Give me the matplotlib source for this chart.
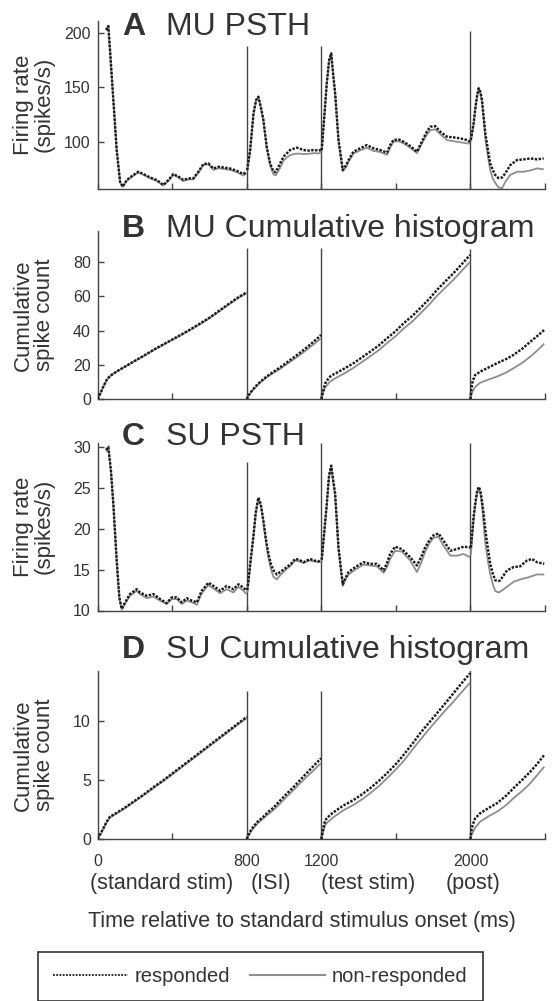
import numpy as np
import matplotlib
matplotlib.use("Agg")
import matplotlib.pyplot as plt
import matplotlib.transforms as mtransforms
from matplotlib.lines import Line2D

plt.rcParams['font.family'] = ['Liberation Sans', 'DejaVu Sans']

# ---------------- data ----------------
# Panel A: MU PSTH (spikes/s); four segments: standard, ISI, test, post
mu_psth_time = [
    [45, 57, 66, 84, 102, 120, 134, 156, 191, 218, 245, 281, 317, 352, 379, 406, 433, 460, 487, 513,
     540, 567, 594, 621, 648, 674, 710, 746, 782, 798],
    [802, 818, 836, 850, 862, 875, 889, 907, 925, 943, 955, 979, 997, 1015, 1032, 1050, 1068, 1086,
     1104, 1122, 1140, 1160, 1185, 1198],
    [1202, 1217, 1229, 1242, 1253, 1263, 1274, 1292, 1315, 1333, 1346, 1372, 1408, 1444, 1480, 1516,
     1552, 1569, 1587, 1614, 1641, 1677, 1713, 1730, 1748, 1766, 1784, 1811, 1838, 1874, 1909, 1945,
     1981, 1998],
    [2002, 2017, 2025, 2035, 2044, 2053, 2062, 2071, 2080, 2094, 2106, 2120, 2133, 2150, 2169, 2187,
     2214, 2250, 2285, 2321, 2357, 2393],
]
mu_psth_resp = [
    [203, 206.7, 184.6, 138.5, 92.3, 63.1, 58.5, 64.7, 69.3, 72.3, 70.2, 67.1, 64.7, 60.1, 64.7, 70.2,
     67.9, 64.7, 66.2, 66.2, 72.3, 79.4, 80, 75.3, 76.9, 76.3, 75.3, 73.2, 70.2, 72.3],
    [73.8, 92.3, 126.2, 138.5, 141.5, 132.3, 120, 95.4, 80, 72.5, 72, 80, 86.2, 89.3, 92.3, 93.5, 94.5,
     93.5, 92.3, 92, 91.7, 92.5, 91.7, 92.5],
    [92.3, 126, 153.9, 175.4, 181.5, 163, 144.6, 101.6, 73.9, 78.5, 83.1, 90.8, 93.9, 96.9, 93.9, 92.3,
     89.9, 96.9, 101.6, 102.1, 100, 96, 90.8, 96.9, 103.1, 109.2, 113.8, 114.4, 109.2, 104.6, 104,
     103.1, 101.6, 100],
    [101.6, 117, 129.2, 142, 149.3, 146, 138.5, 123, 107.7, 92.3, 80, 73.9, 69.3, 66.5, 67, 70.8, 78.5,
     83.1, 83.7, 84.6, 83.7, 84.6],
]
mu_psth_nonresp = [
    [203, 206.5, 184, 138, 92, 63, 58.3, 64, 68.6, 71.6, 69.5, 66.3, 63.8, 59.5, 63.8, 69.4, 67, 63.8,
     65.2, 65.3, 71.2, 78.6, 79.2, 74, 75.6, 75, 74, 72, 68.8, 70.8],
    [73, 91.5, 125.5, 138, 141, 132, 119.5, 94, 78.5, 70, 69, 76, 82.5, 85.5, 87.6, 88.5, 89, 89, 88.5,
     88.8, 89, 89.5, 89.2, 90],
    [91.5, 125.5, 153, 175, 181, 162.5, 144, 101, 73, 76.5, 81.5, 89, 92, 94.5, 91.5, 90.5, 88, 94.5,
     100, 100.5, 98.5, 94.5, 89.5, 95, 101, 106.5, 110.5, 111.5, 107, 101.5, 100.5, 99.5, 98.5, 98.5],
    [100.5, 116, 128.5, 141, 148.5, 145, 136, 120, 103, 86, 73.9, 66, 62, 58, 57, 63, 69.5, 72.3, 72.3,
     73.5, 75.4, 74.6],
]

# Panel B: MU cumulative spike count
mu_cum_time = [
    [0, 15, 30, 48, 66, 100, 150, 200, 250, 300, 350, 400, 450, 500, 550, 600, 650, 700, 750, 800],
    [800, 812, 825, 840, 860, 880, 900, 925, 950, 975, 1000, 1025, 1050, 1075, 1100, 1125, 1150, 1175, 1198],
    [1200, 1210, 1221, 1235, 1247, 1265, 1283, 1320, 1372, 1420, 1462, 1510, 1552, 1600, 1641, 1690,
     1730, 1780, 1820, 1865, 1909, 1950, 1998],
    [2000, 2005, 2012, 2025, 2052, 2100, 2142, 2190, 2231, 2280, 2321, 2360, 2396],
]
mu_cum_resp = [
    [0, 3.5, 7.2, 11.1, 13.5, 16, 19.2, 22.4, 25.5, 28.8, 31.8, 34.8, 37.8, 40.9, 44.2, 47.6, 51.5,
     55.4, 59.2, 62.5],
    [0, 2.5, 4.5, 6.5, 8.8, 10.8, 12.6, 14.6, 16.4, 18.2, 20.2, 22.2, 24.2, 26.2, 28.3, 30.5, 32.8,
     35.1, 37.5],
    [0, 5, 9.2, 11.5, 13.1, 14.4, 15.4, 17.6, 20.9, 24.5, 27.7, 31.5, 35.5, 39.8, 44.3, 48.8, 53.1,
     58.7, 63.8, 68.8, 73.6, 78.5, 84.3],
    [0, 6, 10.5, 14, 16, 18.6, 20.9, 23.3, 25.8, 29.6, 33.5, 37, 40.4],
]
mu_cum_nonresp = [
    [0, 3.4, 7.1, 11, 13.4, 15.9, 19.1, 22.3, 25.3, 28.6, 31.6, 34.6, 37.5, 40.6, 43.9, 47.3, 51.1,
     55, 58.8, 62],
    [0, 2.3, 4.2, 6.1, 8.4, 10.3, 12.1, 14, 15.7, 17.4, 19.3, 21.2, 23.1, 25, 27, 29.1, 31.3, 33.4, 35.5],
    [0, 3.8, 6.8, 8.7, 10.2, 11.5, 12.6, 14.8, 18.2, 21.8, 25.0, 28.7, 32.7, 36.9, 41.2, 45.5, 49.9,
     55.4, 60.3, 65.1, 69.8, 74.6, 80.3],
    [0, 2.5, 4.5, 7, 9.5, 11.5, 13.1, 15.4, 18, 21.3, 24.8, 28.5, 32.4],
]

# Panel C: SU PSTH (spikes/s)
su_psth_time = [
    [45, 57, 71, 84, 102, 116, 129, 147, 173, 209, 227, 263, 299, 335, 370, 397, 424, 451, 478, 505,
     532, 558, 594, 621, 657, 692, 728, 755, 782, 798],
    [802, 809, 822, 835, 848, 862, 875, 889, 902, 916, 930, 943, 961, 979, 997, 1015, 1037, 1059, 1081,
     1104, 1122, 1140, 1163, 1185, 1198],
    [1202, 1217, 1229, 1241, 1253, 1263, 1274, 1292, 1315, 1330, 1346, 1382, 1426, 1462, 1498, 1534,
     1552, 1569, 1596, 1632, 1677, 1713, 1735, 1757, 1780, 1802, 1829, 1856, 1892, 1927, 1963, 1998],
    [2002, 2017, 2025, 2035, 2044, 2053, 2062, 2071, 2080, 2094, 2106, 2120, 2133, 2150, 2160, 2178,
     2196, 2231, 2267, 2303, 2330, 2357, 2396],
]
su_psth_resp = [
    [29.6, 30, 27.1, 23, 16.1, 11.6, 10.2, 11, 12, 12.6, 12.2, 11.8, 12, 11.4, 10.9, 11.6, 11.6, 11,
     11.5, 11.2, 11, 12.4, 13.4, 13, 12.4, 13, 12.6, 13.2, 12.8, 12.4],
    [12.5, 13.7, 16.5, 19, 22, 23.8, 23, 21, 18.8, 16.9, 15.6, 14.9, 14.4, 14.7, 15, 15.3, 15.7, 16.3,
     16.2, 15.9, 16.1, 16.3, 16.1, 16.0, 16.2],
    [16.2, 20, 23, 26.5, 27.7, 26, 24.3, 17.7, 13.2, 14, 14.7, 15.3, 15.9, 15.7, 15.7, 14.9, 15.8, 16.9,
     17.8, 17.5, 16.5, 15.5, 16.5, 17.7, 18.6, 19.2, 19.4, 18.5, 17.3, 17.5, 17.8, 17.7],
    [17.7, 21.5, 23, 24.5, 25.1, 24.7, 23.4, 21.8, 19.8, 17.5, 15.7, 14.5, 13.7, 13.6, 13.7, 14.3, 14.9,
     15.3, 15.4, 16.1, 16.3, 15.9, 15.7],
]
su_psth_nonresp = [
    [29.4, 29.8, 27, 22.8, 16, 11.5, 10.1, 10.8, 11.8, 12.4, 12, 11.5, 11.7, 11.2, 10.8, 11.4, 11.4,
     10.8, 11.2, 11, 10.7, 12.1, 13.1, 12.7, 12.1, 12.6, 12.2, 12.9, 12.4, 12.0],
    [12.2, 13.4, 16.2, 18.8, 21.8, 23.6, 22.8, 20.8, 18.5, 16.5, 15, 14.1, 13.8, 14.3, 14.7, 15.1,
     15.5, 16.1, 16.0, 15.8, 16.0, 16.1, 16.0, 15.9, 16.0],
    [16.0, 19.8, 22.8, 26.3, 27.5, 25.8, 24, 17.4, 13, 13.8, 14.4, 15.0, 15.6, 15.5, 15.4, 14.6, 15.3,
     16.3, 17.3, 17.2, 16.1, 14.7, 15.8, 17.2, 18.2, 18.9, 19.0, 17.9, 16.7, 16.7, 16.9, 16.5],
    [16.8, 21, 22.6, 24.2, 24.9, 24.3, 22.8, 20.5, 18.2, 16, 14.5, 13.2, 12.4, 12.2, 12.3, 12.6, 12.9,
     13.5, 13.8, 14.0, 14.2, 14.4, 14.4],
]

# Panel D: SU cumulative spike count
su_cum_time = [
    [0, 15, 30, 48, 66, 100, 150, 200, 250, 300, 350, 400, 450, 500, 550, 600, 650, 700, 750, 800],
    [800, 809, 822, 835, 860, 889, 915, 943, 975, 1015, 1060, 1104, 1150, 1198],
    [1200, 1210, 1221, 1235, 1247, 1265, 1283, 1320, 1372, 1420, 1462, 1510, 1552, 1600, 1641, 1690,
     1730, 1780, 1820, 1865, 1909, 1950, 1998],
    [2000, 2005, 2012, 2025, 2052, 2100, 2142, 2190, 2231, 2280, 2321, 2360, 2396],
]
su_cum_resp = [
    [0, 0.45, 0.9, 1.47, 1.89, 2.2, 2.7, 3.25, 3.8, 4.4, 4.95, 5.55, 6.15, 6.75, 7.35, 7.95, 8.55,
     9.15, 9.75, 10.35],
    [0, 0.34, 0.75, 1.04, 1.5, 1.89, 2.3, 2.65, 3.2, 3.85, 4.55, 5.3, 6.05, 6.84],
    [0, 0.9, 1.6, 1.85, 2.03, 2.25, 2.46, 2.85, 3.3, 3.8, 4.3, 4.95, 5.57, 6.35, 7.12, 8.1, 8.96, 9.9,
     10.65, 11.5, 12.35, 13.15, 14.04],
    [0, 0.7, 1.2, 1.75, 2.18, 2.65, 3.03, 3.65, 4.3, 5.05, 5.7, 6.4, 7.12],
]
su_cum_nonresp = [
    [0, 0.4, 0.85, 1.4, 1.82, 2.15, 2.65, 3.2, 3.75, 4.33, 4.88, 5.47, 6.07, 6.67, 7.27, 7.87, 8.47,
     9.07, 9.67, 10.25],
    [0, 0.25, 0.6, 0.9, 1.35, 1.75, 2.1, 2.45, 2.95, 3.6, 4.3, 5.0, 5.7, 6.42],
    [0, 0.6, 1.2, 1.45, 1.6, 1.85, 2.05, 2.45, 2.88, 3.38, 3.88, 4.5, 5.14, 5.9, 6.6, 7.6, 8.39, 9.35,
     10.08, 10.9, 11.64, 12.4, 13.25],
    [0, 0.3, 0.55, 0.95, 1.47, 1.95, 2.31, 2.85, 3.45, 4.1, 4.72, 5.45, 6.13],
]

panel_letters = ["A", "B", "C", "D"]
panel_titles = ["MU PSTH", "MU Cumulative histogram", "SU PSTH", "SU Cumulative histogram"]
panel_ylabels = ["Firing rate\n(spikes/s)", "Cumulative\nspike count",
                 "Firing rate\n(spikes/s)", "Cumulative\nspike count"]
panel_yticks = [[100, 150, 200], [0, 20, 40, 60, 80], [10, 15, 20, 25, 30], [0, 5, 10]]
panel_ylims = [(56.4, 211.6), (0, 98.3), (10, 30.5), (0, 14.26)]
boundaries = [800, 1200, 2000]
boundary_tops = [[188.3, 188.3, 202], [88.5, 88.5, 88], [28.1, 30.5, 30.5], [12.5, 12.5, 14.3]]
xtick_values = [0, 400, 800, 1200, 1600, 2000, 2400]
xtick_labels = ["0", "", "800", "1200", "", "2000", ""]
epoch_labels = ["(standard stim)", "(ISI)", "(test stim)", "(post)"]
epoch_centers = [342, 930, 1453, 2016]
legend_labels = ["responded", "non-responded"]

# ---------------- figure ----------------
W, H = 558, 1001
fig = plt.figure(figsize=(W / 100, H / 100), dpi=100)

TXT = "#333333"
AXC = "#444444"
BLACK = "#1a1a1a"
GRAY = "#8e8e8e"
TICKFONT = ['Liberation Sans Narrow', 'Liberation Sans', 'DejaVu Sans']
DOTS = (0, (1, 0.6))

def rect(left, top, right, bottom):
    return [left / W, 1 - bottom / H, (right - left) / W, (bottom - top) / H]

rects = [(97.7, 20.7, 545, 189), (97.7, 231, 545, 399),
         (97.7, 442.7, 545, 610.5), (97.7, 670.7, 545, 839)]
title_baselines = [35, 237, 445, 658]

series = [(mu_psth_time, mu_psth_resp, mu_psth_nonresp),
          (mu_cum_time, mu_cum_resp, mu_cum_nonresp),
          (su_psth_time, su_psth_resp, su_psth_nonresp),
          (su_cum_time, su_cum_resp, su_cum_nonresp)]

axes = []
for i in range(4):
    ax = fig.add_axes(rect(*rects[i]))
    axes.append(ax)
    tt, rr, nn = series[i]
    for ts, rs, ns in zip(tt, rr, nn):
        ax.plot(ts, ns, color=GRAY, lw=1.3, solid_capstyle='butt', zorder=2)
        ax.plot(ts, rs, color=BLACK, lw=1.75, ls=DOTS, zorder=3)
    ax.vlines(boundaries, panel_ylims[i][0], boundary_tops[i], color=AXC, lw=1.0, zorder=1)
    ax.set_xlim(0, 2400)
    ax.set_ylim(*panel_ylims[i])
    for s in ["top", "right"]:
        ax.spines[s].set_visible(False)
    for s in ["left", "bottom"]:
        ax.spines[s].set_color(AXC)
        ax.spines[s].set_linewidth(1.0)
    ax.set_yticks(panel_yticks[i])
    ax.set_xticks(xtick_values)
    if i == 3:
        ax.set_xticklabels(xtick_labels)
    else:
        ax.set_xticklabels([])
    ax.tick_params(axis='both', direction='in', length=4, width=1.0, color=AXC,
                   labelcolor=TXT, labelsize=11.5)
    ax.tick_params(axis='y', pad=5)
    ax.tick_params(axis='x', pad=11)
    for lab in ax.get_yticklabels() + ax.get_xticklabels():
        lab.set_fontfamily(TICKFONT)
    # titles
    yb = 1 - title_baselines[i] / H
    fig.text(122 / W, yb, panel_letters[i], fontsize=23, fontweight='bold', color=TXT, va='baseline')
    fig.text(165.5 / W, yb, panel_titles[i], fontsize=23, color=TXT, va='baseline')
    # y label
    top, bot = rects[i][1], rects[i][3]
    fig.text(34 / W, 1 - (top + bot) / 2 / H, panel_ylabels[i], rotation=90, fontsize=16,
             color=TXT, ha='center', va='center', multialignment='center', linespacing=1.0)

axD = axes[3]
trans = mtransforms.blended_transform_factory(axD.transData, fig.transFigure)
for lab, xc in zip(epoch_labels, epoch_centers):
    fig.text(xc, 1 - 884 / H, lab, transform=trans, fontsize=15.5, color=TXT,
             ha='center', va='center')
fig.text(302 / W, 1 - 921.7 / H, "Time relative to standard stimulus onset (ms)", fontsize=15.5,
         color=TXT, ha='center', va='center')

handles = [Line2D([], [], color=BLACK, lw=1.3, ls=(0, (1, 0.8))),
           Line2D([], [], color=GRAY, lw=1.5)]
leg = fig.legend(handles, legend_labels, ncol=2, loc='upper left',
                 bbox_to_anchor=(38 / W, 1 - 951.7 / H), bbox_transform=fig.transFigure,
                 fontsize=14.5, frameon=True, fancybox=False, edgecolor="#333333",
                 framealpha=1, borderaxespad=0, borderpad=0.75, handlelength=3.7,
                 handletextpad=0.35, columnspacing=1.0)
leg.get_frame().set_linewidth(1.2)
for t in leg.get_texts():
    t.set_color(TXT)

fig.savefig("out.png", dpi=100)
